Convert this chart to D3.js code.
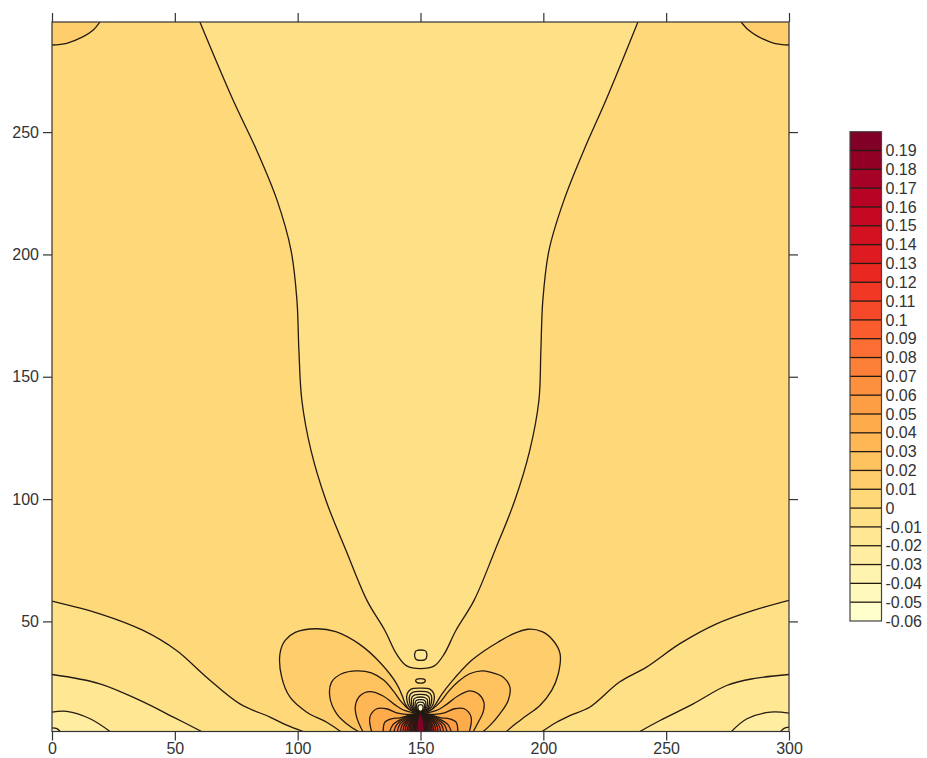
<!DOCTYPE html>
<html>
<head>
<meta charset="utf-8">
<script src="https://cdn.jsdelivr.net/npm/d3@7"></script>
<style>
  html, body { margin: 0; padding: 0; background: #fff; }
  svg { display: block; font-family: "Liberation Sans", Arial, sans-serif; }
</style>
</head>
<body>
<svg id="chart" width="927" height="758"></svg>
<script>
// ---- contour levels and axis ticks ----
const levels = [-0.06, -0.05, -0.04, -0.03, -0.02, -0.01, 0, 0.01, 0.02, 0.03, 0.04, 0.05, 0.06,
                0.07, 0.08, 0.09, 0.1, 0.11, 0.12, 0.13, 0.14, 0.15, 0.16, 0.17, 0.18, 0.19];
const legendTop = 0.20;          // upper end of the darkest legend box
const backgroundLevel = 0;       // field value band [0, 0.01] that fills the open area
const xTicks = [0, 50, 100, 150, 200, 250, 300];
const yTicks = [50, 100, 150, 200, 250];
const xExtent = [0, 300];
const yExtent = [5, 295];

// ---- isolines (x, y) ----
// central valley, level 0
const valley = [[60.2,295],[73.7,263.1],[83.3,242.6],[91.6,222.2],[97.3,201.7],[99.7,181.3],[100.5,160.9],
  [101.7,140.4],[105.4,120],[111.5,99.5],[119.7,79],[128.2,58.6],[135.5,46.3],[140.3,36.6],[144.4,31.8],
  [150,30.7],[155.6,31.8],[159.6,36.6],[164.4,46.3],[171.8,58.6],[180.3,79],[188.4,99.5],[194.5,120],
  [198.2,140.4],[199,160.9],[199.8,181.3],[202.3,201.7],[208.4,222.2],[216.5,242.6],[225.5,263.1],[238.5,295]];
// upper corners, level 0.01
const cornerTopLeft = [[0,285.6],[6,286.3],[12.7,289],[16.8,291.7],[19.5,295]];
const cornerTopRight = [[280.5,295],[283.5,291.7],[287.5,289],[294,286.3],[300,285.6]];
// lower-left corner, levels 0 … -0.03
const lowLeft0 = [[0,58.3],[19.5,53.1],[37.1,46.3],[50.7,38.1],[62.9,27.2],[76.5,16.3],[88.7,10.9],[95,7.8],[102.3,5]];
const lowLeft1 = [[0,28.3],[19.5,24.5],[35.8,17.7],[49.4,10.9],[60.9,5]];
const lowLeft2 = [[0,12.9],[6,13.2],[15.5,10.2],[23.6,5]];
const lowLeft3 = [[0,6.5],[2,6.2],[3.3,5]];
// lower-right corner, levels 0 … -0.03
const lowRight0 = [[300,58.6],[285.5,54.5],[270.5,49],[255.6,40.9],[242,31.3],[231,25.2],[219,15],[210.8,11.5],[205.4,8.8],[199.5,5]];
const lowRight1 = [[300,28.3],[285.5,26.6],[274.6,23.8],[261,16.3],[247.5,9.5],[239.3,5]];
const lowRight2 = [[300,12.5],[292.4,12.9],[282.9,10.2],[276.6,5]];
const lowRight3 = [[300,6.8],[298,6.3],[296.6,5]];
// small closed rings above the source
const ringSquare = [[147.8,35],[147.8,37.4],[148.5,38.1],[151.7,38.1],[152.4,37.4],[152.4,35],[151.7,34.3],[148.5,34.3]];
const ringOval = [[148,25.7],[148.6,26.4],[150,26.6],[151.4,26.4],[152,25.7],[151.4,25],[150,24.8],[148.6,25]];
// butterfly lobes, levels 0.01 … 0.05
const lobe01 = [[117.5,5],[111.8,8.8],[103.7,12.9],[96.9,19],[93.5,27.2],[92.8,36.8],[94.9,42.2],[99,45.5],[107.5,47],
  [115.5,45.8],[125.4,40.5],[134,32.7],[140.3,24.5],[142.6,19.5],[143.8,16.2],[145.5,14],[148,13],[150,12.8],
  [152,13],[154.5,14],[156.2,16.2],[158.5,20],[162.5,25.2],[170.7,34],[176,38],[181.5,41.5],[187.5,44.8],
  [193.7,46.8],[199.5,45.8],[204,42.2],[206.8,36.8],[206.1,28.6],[203.4,21.8],[198.6,15.6],[193.2,11.5],[187.8,7.5],[185,5]];
const lobe02 = [[124.7,5],[119.9,8.2],[115.9,12.2],[113.1,19],[113.8,25.2],[117.9,28.6],[124,29.8],[130,29],[135,26],
  [139,21.5],[142.3,17],[145,14.3],[147.5,13.1],[150,12.7],[152.5,13.1],[155,14.3],[158,17],[161.5,21.5],[165.5,25.5],
  [170,28.6],[175,29.8],[178.3,29.3],[183.7,27.2],[186.4,23.1],[185.7,17.7],[182.3,12.2],[178.3,7.5],[175.5,5]];
const lobe03 = [[126.5,5],[124,10.9],[123.5,15.6],[125.4,19.6],[129.4,21.3],[134.8,19.5],[139.5,16],[143.5,13.6],
  [147,12.7],[150,12.6],[153,12.7],[156.5,13.6],[160.5,16],[165.2,19.5],[170,21.6],[173.5,20.4],[175.8,17],
  [175.5,12.9],[173.5,8.8],[171.5,5]];
const lobe04 = [[130.1,5],[129.4,10.9],[132.2,14.3],[136.2,14.3],[140.3,12.6],[144.5,12],[150,12.5],
  [155.5,12],[159.7,12.6],[163.8,14.3],[167.8,14.3],[170.6,10.9],[169.9,5]];
const lobe05 = [[134.8,5],[135.5,8.8],[138.2,10.2],[141.6,10.6],[145.3,11.6],[150,12.4],
  [154.7,11.6],[158.4,10.6],[161.8,10.2],[164.5,8.8],[165.2,5]];
// narrow fans under the source, levels 0.06 … 0.19
const fanLevels = [0.06, 0.07, 0.08, 0.09, 0.1, 0.11, 0.12, 0.13, 0.14, 0.15, 0.16, 0.17, 0.18, 0.19];
const fanLines = [
  [[137.5,5],[138.8,7.8],[142.5,10.2],[146.3,11.8],[150,12.4],[153.7,11.8],[157.5,10.2],[161.2,7.8],[162.5,5]],
  [[139.2,5],[140.3,7.8],[143.5,10.2],[146.8,11.8],[150,12.4],[153.2,11.8],[156.5,10.2],[159.7,7.8],[160.8,5]],
  [[140.6,5],[141.5,7.8],[144.4,10.2],[147.2,11.8],[150,12.4],[152.8,11.8],[155.6,10.2],[158.5,7.8],[159.4,5]],
  [[141.8,5],[142.6,7.8],[145.1,10.2],[147.5,11.8],[150,12.4],[152.5,11.8],[154.9,10.2],[157.4,7.8],[158.2,5]],
  [[142.8,5],[143.5,7.8],[145.7,10.2],[147.8,11.8],[150,12.4],[152.2,11.8],[154.3,10.2],[156.5,7.8],[157.2,5]],
  [[143.7,5],[144.3,7.8],[146.2,10.2],[148.1,11.8],[150,12.4],[151.9,11.8],[153.8,10.2],[155.7,7.8],[156.3,5]],
  [[144.5,5],[145.1,7.8],[146.7,10.2],[148.4,11.8],[150,12.4],[151.6,11.8],[153.3,10.2],[154.9,7.8],[155.5,5]],
  [[145.2,5],[145.7,7.8],[147.1,10.2],[148.6,11.8],[150,12.4],[151.4,11.8],[152.9,10.2],[154.3,7.8],[154.8,5]],
  [[145.8,5],[146.2,7.8],[147.5,10.2],[148.7,11.8],[150,12.4],[151.3,11.8],[152.5,10.2],[153.8,7.8],[154.2,5]],
  [[146.4,5],[146.8,7.8],[147.8,10.2],[148.9,11.8],[150,12.4],[151.1,11.8],[152.2,10.2],[153.2,7.8],[153.6,5]],
  [[146.9,5],[147.2,7.8],[148.1,10.2],[149.1,11.8],[150,12.4],[150.9,11.8],[151.9,10.2],[152.8,7.8],[153.1,5]],
  [[147.4,5],[147.7,7.8],[148.4,10.2],[149.2,11.8],[150,12.4],[150.8,11.8],[151.6,10.2],[152.3,7.8],[152.6,5]],
  [[147.9,5],[148.1,7.8],[148.7,10.2],[149.4,11.8],[150,12.4],[150.6,11.8],[151.3,10.2],[151.9,7.8],[152.1,5]],
  [[148.4,5],[148.6,7.8],[149,10.2],[149.5,11.8],[150,12.4],[150.5,11.8],[151,10.2],[151.4,7.8],[151.6,5]]
];
// arches over the source, levels 0 … -0.06
const archLevels = [0, -0.01, -0.02, -0.03, -0.04, -0.05, -0.06];
const archLines = [
  [[150,13],[147.5,13.6],[145.5,15],[144.5,17.5],[144.6,20.5],[146.2,22.3],[150,22.7],[153.8,22.3],[155.4,20.5],[155.5,17.5],[154.5,15],[152.5,13.6]],
  [[150,13],[147.9,13.6],[146.3,14.9],[145.5,17.2],[145.6,19.7],[147,21.1],[150,21.4],[153,21.1],[154.4,19.7],[154.5,17.2],[153.7,14.9],[152.1,13.6]],
  [[150,13],[148.2,13.6],[146.9,14.8],[146.3,16.8],[146.5,19],[147.7,20],[150,20.2],[152.3,20],[153.5,19],[153.7,16.8],[153.1,14.8],[151.8,13.6]],
  [[150,13],[148.5,13.5],[147.5,14.7],[147.1,16.4],[147.3,18.2],[148.3,18.9],[150,19.1],[151.7,18.9],[152.7,18.2],[152.9,16.4],[152.5,14.7],[151.5,13.5]],
  [[150,13],[148.8,13.5],[148,14.6],[147.8,16],[148,17.3],[148.8,17.9],[150,18],[151.2,17.9],[152,17.3],[152.2,16],[152,14.6],[151.2,13.5]],
  [[150,13],[149,13.5],[148.5,14.5],[148.4,15.6],[148.6,16.5],[149.2,16.9],[150,17],[150.8,16.9],[151.4,16.5],[151.6,15.6],[151.5,14.5],[151,13.5]],
  [[150,13.2],[149.3,13.6],[149,14.4],[149,15.2],[149.4,15.8],[150,16],[150.6,15.8],[151,15.2],[151,14.4],[150.7,13.6]]
];

// ---- layout ----
const plot = { left: 52, right: 789, top: 22, bottom: 731.5 };
const bar = { left: 850, right: 881.5, top: 131.7, bottom: 621 };
const ink = "#241a12";
const axisInk = "#333";
const fontSize = 16;

const svg = d3.select("#chart");
const x = d3.scaleLinear().domain(xExtent).range([plot.left, plot.right]);
const y = d3.scaleLinear().domain(yExtent).range([plot.bottom, plot.top]);
const bandColor = d3.scaleSequential(d3.interpolateYlOrRd).domain([0, levels.length - 1]);

const levelIndex = v => levels.findIndex(l => Math.abs(l - v) < 1e-9);
// band that lies on the given side of an isoline
const bandOf = (level, side) => Math.max(0, side === "above" ? levelIndex(level) : levelIndex(level) - 1);

const [x0, x1] = xExtent, [y0, y1] = yExtent;
// painter order: outer regions first, nested regions later
const contours = [
  { level: 0,     side: "below", pts: valley,         close: [] },
  { level: 0.01,  side: "above", pts: cornerTopLeft,  close: [[x0, y1]] },
  { level: 0.01,  side: "above", pts: cornerTopRight, close: [[x1, y1]] },
  { level: 0,     side: "below", pts: lowLeft0,  close: [[x0, y0]] },
  { level: -0.01, side: "below", pts: lowLeft1,  close: [[x0, y0]] },
  { level: -0.02, side: "below", pts: lowLeft2,  close: [[x0, y0]] },
  { level: -0.03, side: "below", pts: lowLeft3,  close: [[x0, y0]] },
  { level: 0,     side: "below", pts: lowRight0, close: [[x1, y0]] },
  { level: -0.01, side: "below", pts: lowRight1, close: [[x1, y0]] },
  { level: -0.02, side: "below", pts: lowRight2, close: [[x1, y0]] },
  { level: -0.03, side: "below", pts: lowRight3, close: [[x1, y0]] },
  { level: -0.01, side: "below", pts: ringSquare, closed: true },
  { level: 0,     side: "below", pts: ringOval,   closed: true },
  { level: 0.01,  side: "above", pts: lobe01, close: [] },
  { level: 0.02,  side: "above", pts: lobe02, close: [] },
  { level: 0.03,  side: "above", pts: lobe03, close: [] },
  { level: 0.04,  side: "above", pts: lobe04, close: [] },
  { level: 0.05,  side: "above", pts: lobe05, close: [] },
  ...fanLevels.map((lv, i) => ({ level: lv, side: "above", pts: fanLines[i], close: [] })),
  ...archLevels.map((lv, i) => ({ level: lv, side: "below", pts: archLines[i], closed: true }))
];

const openLine = d3.line().x(d => x(d[0])).y(d => y(d[1])).curve(d3.curveCatmullRom.alpha(0.5));
const ringLine = d3.line().x(d => x(d[0])).y(d => y(d[1])).curve(d3.curveCatmullRomClosed.alpha(0.5));

const fillPath = c => c.closed ? ringLine(c.pts)
  : openLine(c.pts) + c.close.map(p => `L${x(p[0])},${y(p[1])}`).join("") + "Z";
const strokePath = c => c.closed ? ringLine(c.pts) : openLine(c.pts);

// ---- contour map ----
svg.append("defs").append("clipPath").attr("id", "plot-clip")
  .append("rect")
  .attr("x", plot.left).attr("y", plot.top)
  .attr("width", plot.right - plot.left).attr("height", plot.bottom - plot.top);

const map = svg.append("g").attr("clip-path", "url(#plot-clip)");
map.append("rect")
  .attr("x", plot.left).attr("y", plot.top)
  .attr("width", plot.right - plot.left).attr("height", plot.bottom - plot.top)
  .attr("fill", bandColor(levelIndex(backgroundLevel)));

map.append("g").selectAll("path").data(contours).join("path")
  .attr("d", fillPath)
  .attr("fill", c => bandColor(bandOf(c.level, c.side)))
  .attr("stroke", "none");

map.append("g").selectAll("path").data(contours).join("path")
  .attr("d", strokePath)
  .attr("fill", "none")
  .attr("stroke", ink)
  .attr("stroke-width", 1.3)
  .attr("stroke-linejoin", "round");

// ---- frame and axes ----
svg.append("rect")
  .attr("x", plot.left).attr("y", plot.top)
  .attr("width", plot.right - plot.left).attr("height", plot.bottom - plot.top)
  .attr("fill", "none").attr("stroke", axisInk).attr("stroke-width", 1.2);

const tickLen = 9;
const styleAxis = g => {
  g.select(".domain").remove();
  g.selectAll(".tick line").attr("stroke", axisInk).attr("stroke-width", 1.2);
  g.selectAll(".tick text").attr("fill", axisInk).attr("font-size", fontSize)
    .attr("font-family", "'Liberation Sans', Arial, sans-serif");
};
svg.append("g").attr("transform", `translate(0,${plot.bottom})`)
  .call(d3.axisBottom(x).tickValues(xTicks).tickSize(tickLen).tickPadding(2)).call(styleAxis);
svg.append("g").attr("transform", `translate(0,${plot.top})`)
  .call(d3.axisTop(x).tickValues(xTicks).tickSize(tickLen).tickFormat("")).call(styleAxis);
svg.append("g").attr("transform", `translate(${plot.left},0)`)
  .call(d3.axisLeft(y).tickValues(yTicks).tickSize(tickLen).tickPadding(4)).call(styleAxis);
svg.append("g").attr("transform", `translate(${plot.right},0)`)
  .call(d3.axisRight(y).tickValues(yTicks).tickSize(tickLen).tickFormat("")).call(styleAxis);

// ---- colour legend ----
const cb = d3.scaleLinear().domain([levels[0], legendTop]).range([bar.bottom, bar.top]);
const boxes = levels.map((lo, i) => ({ lo, hi: i + 1 < levels.length ? levels[i + 1] : legendTop, band: i }));
const legend = svg.append("g");
legend.selectAll("rect.box").data(boxes).join("rect")
  .attr("class", "box")
  .attr("x", bar.left).attr("width", bar.right - bar.left)
  .attr("y", d => cb(d.hi)).attr("height", d => cb(d.lo) - cb(d.hi))
  .attr("fill", d => bandColor(d.band));
legend.selectAll("line.sep").data(levels.slice(1)).join("line")
  .attr("class", "sep")
  .attr("x1", bar.left).attr("x2", bar.right)
  .attr("y1", d => cb(d)).attr("y2", d => cb(d))
  .attr("stroke", ink).attr("stroke-width", 1.3);
legend.append("rect")
  .attr("x", bar.left).attr("y", bar.top)
  .attr("width", bar.right - bar.left).attr("height", bar.bottom - bar.top)
  .attr("fill", "none").attr("stroke", "#444").attr("stroke-width", 1.2);
legend.append("g").attr("transform", `translate(${bar.right},0)`)
  .call(d3.axisRight(cb).tickValues(levels).tickSize(0).tickPadding(4)
    .tickFormat(d => String(+d.toFixed(2))))
  .call(styleAxis);
</script>
</body>
</html>
